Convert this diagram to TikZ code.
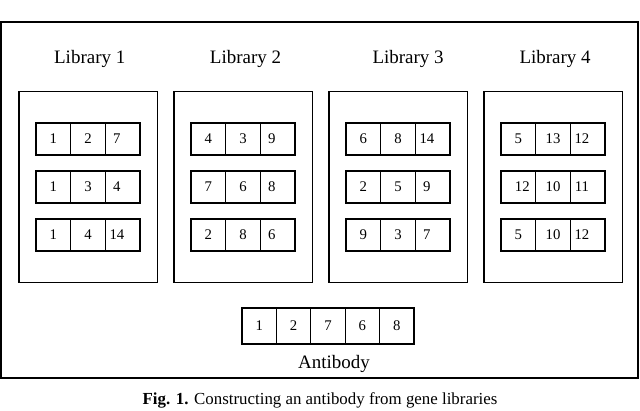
\documentclass[tikz,border=0pt]{standalone}
\usepackage{fontspec}
\setmainfont{Liberation Serif}
\usetikzlibrary{positioning, calc, fit}

\begin{document}
\begin{tikzpicture}[
    cell/.style={
        draw,
        line width=0.8pt,
        minimum width=0.87cm,
        minimum height=0.8cm,
        inner sep=0pt,
        outer sep=0pt,
        font=\fontsize{10.5}{12}\selectfont
    },
    lastcell/.style={cell, execute at end node={\hspace{0.3cm}}},
    abcell/.style={cell, minimum width=0.86cm, minimum height=0.9cm},
    rowbox/.style={draw, line width=1.4pt, inner sep=0pt},
    library/.style={draw, line width=1pt, inner xsep=0.425cm, inner ysep=0.79cm},
    libtitle/.style={font=\fontsize{13.5}{16}\selectfont, inner sep=0pt},
    frame/.style={draw, line width=1.4pt, minimum width=15.925cm, minimum height=8.9cm}
]

\useasboundingbox (0,0) rectangle (16,-10.25);

\node[frame] (frame) at (7.9875,-5.0) {};

% Library 1
\node[cell] (a11) at (1.333,-3.475) {1};
\node[cell, right=0pt of a11] (a12) {2};
\node[lastcell, right=0pt of a12] (a13) {7};
\node[cell] (a21) at (1.333,-4.675) {1};
\node[cell, right=0pt of a21] (a22) {3};
\node[lastcell, right=0pt of a22] (a23) {4};
\node[cell] (a31) at (1.333,-5.875) {1};
\node[cell, right=0pt of a31] (a32) {4};
\node[lastcell, right=0pt of a32] (a33) {14};

% Library 2
\node[cell] (b11) at (5.208,-3.475) {4};
\node[cell, right=0pt of b11] (b12) {3};
\node[lastcell, right=0pt of b12] (b13) {9};
\node[cell] (b21) at (5.208,-4.675) {7};
\node[cell, right=0pt of b21] (b22) {6};
\node[lastcell, right=0pt of b22] (b23) {8};
\node[cell] (b31) at (5.208,-5.875) {2};
\node[cell, right=0pt of b31] (b32) {8};
\node[lastcell, right=0pt of b32] (b33) {6};

% Library 3
\node[cell] (c11) at (9.083,-3.475) {6};
\node[cell, right=0pt of c11] (c12) {8};
\node[lastcell, right=0pt of c12] (c13) {14};
\node[cell] (c21) at (9.083,-4.675) {2};
\node[cell, right=0pt of c21] (c22) {5};
\node[lastcell, right=0pt of c22] (c23) {9};
\node[cell] (c31) at (9.083,-5.875) {9};
\node[cell, right=0pt of c31] (c32) {3};
\node[lastcell, right=0pt of c32] (c33) {7};

% Library 4
\node[cell] (d11) at (12.958,-3.475) {5};
\node[cell, right=0pt of d11] (d12) {13};
\node[lastcell, right=0pt of d12] (d13) {12};
\node[cell] (d21) at (12.958,-4.675) {\hspace{0.2cm}12};
\node[cell, right=0pt of d21] (d22) {10};
\node[lastcell, right=0pt of d22] (d23) {11};
\node[cell] (d31) at (12.958,-5.875) {5};
\node[cell, right=0pt of d31] (d32) {10};
\node[lastcell, right=0pt of d32] (d33) {12};

% thick outline of each gene row
\node[rowbox, fit=(a11)(a13)] (rowa1) {};
\node[rowbox, fit=(a21)(a23)] (rowa2) {};
\node[rowbox, fit=(a31)(a33)] (rowa3) {};
\node[rowbox, fit=(b11)(b13)] (rowb1) {};
\node[rowbox, fit=(b21)(b23)] (rowb2) {};
\node[rowbox, fit=(b31)(b33)] (rowb3) {};
\node[rowbox, fit=(c11)(c13)] (rowc1) {};
\node[rowbox, fit=(c21)(c23)] (rowc2) {};
\node[rowbox, fit=(c31)(c33)] (rowc3) {};
\node[rowbox, fit=(d11)(d13)] (rowd1) {};
\node[rowbox, fit=(d21)(d23)] (rowd2) {};
\node[rowbox, fit=(d31)(d33)] (rowd3) {};

\node[library, fit=(a11)(a33)] (lib1) {};
\node[library, fit=(b11)(b33)] (lib2) {};
\node[library, fit=(c11)(c33)] (lib3) {};
\node[library, fit=(d11)(d33)] (lib4) {};

\node[libtitle] (title1) at ($(lib1.north)+(0.04,0.8)$) {Library 1};
\node[libtitle] (title2) at ($(lib2.north)+(0.06,0.8)$) {Library 2};
\node[libtitle] (title3) at ($(lib3.north)+(0.25,0.8)$) {Library 3};
\node[libtitle] (title4) at ($(lib4.north)+(0.05,0.8)$) {Library 4};

% Antibody
\node[abcell] (ab1) at (6.48,-8.15) {1};
\node[abcell, right=0pt of ab1] (ab2) {2};
\node[abcell, right=0pt of ab2] (ab3) {7};
\node[abcell, right=0pt of ab3] (ab4) {6};
\node[abcell, right=0pt of ab4] (ab5) {8};
\node[rowbox, fit=(ab1)(ab5)] (abrow) {};
\node[libtitle] (ablabel) at ($(ab3.south)+(0.15,-0.5)$) {Antibody};

\node[font=\fontsize{12}{14}\selectfont, inner sep=0pt] (caption) at (8.0,-10.0)
    {\textbf{Fig. 1.} Constructing an antibody from gene libraries};

\end{tikzpicture}
\end{document}
